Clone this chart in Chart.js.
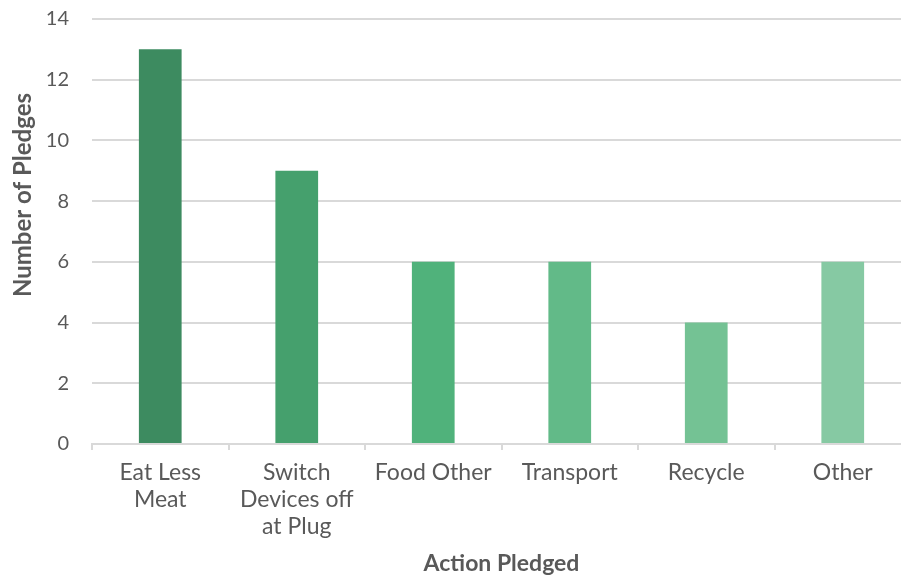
<!DOCTYPE html>
<html>
<head>
<meta charset="utf-8">
<script src="https://cdn.jsdelivr.net/npm/chart.js@4.4.1/dist/chart.umd.min.js"></script>
<style>
  html, body { margin: 0; padding: 0; background: #ffffff; overflow: hidden; }
  #wrap { position: relative; width: 915px; height: 581px; }
</style>
</head>
<body>
<div id="wrap"><canvas id="chart"></canvas></div>
<script>
// Pledges counted per action
const categories = [["Eat Less", "Meat"], ["Switch", "Devices off", "at Plug"], "Food Other", "Transport", "Recycle", "Other"];
const pledges = [13, 9, 6, 6, 4, 6];
const barColours = ["#3d8b60", "#45a06d", "#50b27b", "#62ba88", "#74c294", "#86c9a3"];
const yTicks = [0, 2, 4, 6, 8, 10, 12, 14];
const xTitle = "Action Pledged";
const yTitle = "Number of Pledges";

const TEXT = "#595959";
const GRID = "#d9d9d9";
const FONT = "Lato, 'Open Sans', sans-serif";

// Vertical axis title, placed by hand beside the tick labels
const yTitlePlugin = {
  id: "yTitle",
  afterDraw(chart) {
    const ctx = chart.ctx;
    ctx.save();
    ctx.translate(23, 195);
    ctx.rotate(-Math.PI / 2);
    ctx.font = "bold 24px " + FONT;
    ctx.fillStyle = TEXT;
    ctx.textAlign = "center";
    ctx.textBaseline = "middle";
    ctx.fillText(yTitle, 0, 0);
    ctx.restore();
  }
};

new Chart(document.getElementById("chart"), {
  type: "bar",
  data: {
    labels: categories,
    datasets: [{
      data: pledges,
      backgroundColor: barColours,
      borderWidth: 0,
      categoryPercentage: 1,
      barPercentage: 0.313
    }]
  },
  options: {
    responsive: true,
    maintainAspectRatio: false,
    animation: false,
    layout: { padding: { top: 19, right: 4, left: 0, bottom: 4 } },
    plugins: {
      legend: { display: false },
      tooltip: { enabled: false }
    },
    scales: {
      x: {
        offset: true,
        grid: {
          offset: true,
          drawOnChartArea: false,
          drawTicks: true,
          tickLength: 6,
          color: GRID,
          lineWidth: 2
        },
        border: { color: GRID, width: 2 },
        ticks: {
          color: TEXT,
          font: { family: FONT, size: 23, lineHeight: 1.18 },
          padding: 9,
          maxRotation: 0,
          autoSkip: false
        },
        title: {
          display: true,
          text: xTitle,
          color: TEXT,
          font: { family: FONT, size: 23, weight: "bold" },
          padding: { top: 0, bottom: 0 }
        },
        afterFit(scale) { scale.height = 133; }
      },
      y: {
        min: 0,
        max: 14,
        afterBuildTicks(scale) { scale.ticks = yTicks.map(v => ({ value: v })); },
        grid: { color: GRID, lineWidth: 2, drawTicks: false },
        border: { display: false },
        ticks: {
          color: TEXT,
          font: { family: FONT, size: 20 },
          padding: 23
        },
        afterFit(scale) {
          scale.width = 92;
          scale.paddingTop = 0;
          scale.paddingBottom = 0;
        }
      }
    }
  },
  plugins: [yTitlePlugin]
});
</script>
</body>
</html>
